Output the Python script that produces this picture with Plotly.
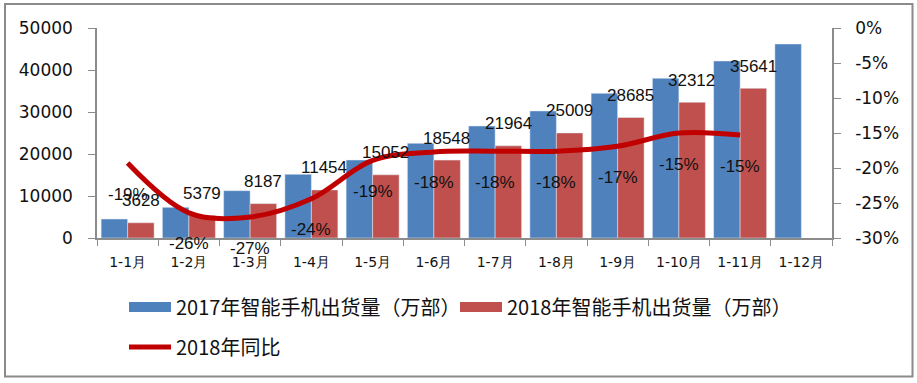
import plotly.graph_objects as go

categories = ['1-1月', '1-2月', '1-3月', '1-4月', '1-5月', '1-6月',
              '1-7月', '1-8月', '1-9月', '1-10月', '1-11月', '1-12月']
ship_2017 = [4520, 7310, 11270, 15160, 18570, 22540, 26670, 30240, 34440, 38020, 42140, 46190]
ship_2018 = [3628, 5379, 8187, 11454, 15052, 18548, 21964, 25009, 28685, 32312, 35641]
yoy_2018 = [-19.3, -26.4, -27.0, -24.4, -18.9, -17.7, -17.6, -17.6, -16.9, -15.0, -15.3]
left_ticks = [0, 10000, 20000, 30000, 40000, 50000]
right_tickvals = [0, -5, -10, -15, -20, -25, -30]
right_ticktext = ['0%', '-5%', '-10%', '-15%', '-20%', '-25%', '-30%']

name_2017 = '2017年智能手机出货量（万部）'
name_2018 = '2018年智能手机出货量（万部）'
name_yoy = '2018年同比'

BLUE = '#4F81BD'
RED = '#C0504D'
DARKRED = '#C00000'
AXIS = '#8C8C8C'
TXT = '#111111'

W, H = 917, 383
L, R, T, B = 97, 85, 28, 145
PW, PH = W - L - R, H - T - B

fig = go.Figure()
fig.add_trace(go.Bar(x=categories, y=ship_2017, name=name_2017, marker_color=BLUE,
                     showlegend=False, legendgroup='a'))
fig.add_trace(go.Bar(x=categories[:len(ship_2018)], y=ship_2018, name=name_2018,
                     marker_color=RED, showlegend=False, legendgroup='b'))
fig.add_trace(go.Scatter(x=categories[:len(yoy_2018)], y=yoy_2018, name=name_yoy, yaxis='y2',
                         mode='lines', line=dict(color=DARKRED, width=5, shape='spline'),
                         legend='legend2'))
# legend swatches (wide bands like the original)
fig.add_trace(go.Scatter(x=[None], y=[None], name=name_2017, mode='lines',
                         line=dict(color=BLUE, width=14), legendgroup='a'))
fig.add_trace(go.Scatter(x=[None], y=[None], name=name_2018, mode='lines',
                         line=dict(color=RED, width=14), legendgroup='b'))

annotations = []
for c, v in zip(categories, ship_2018):
    annotations.append(dict(x=c, y=v, xref='x', yref='y', text=str(v), showarrow=False,
                            xshift=13, yshift=22, yanchor='middle',
                            font=dict(family='Liberation Sans', size=17, color=TXT)))
for c, v in zip(categories, yoy_2018):
    annotations.append(dict(x=c, y=v, xref='x', yref='y2', text=f'{round(v):d}%', showarrow=False,
                            yshift=-31, yanchor='middle',
                            font=dict(family='Liberation Sans', size=17, color=TXT)))

shapes = [dict(type='rect', xref='paper', yref='paper',
               x0=(5 - L) / PW, x1=(912.5 - L) / PW,
               y0=(T + PH - 376.5) / PH, y1=(T + PH - 4) / PH,
               line=dict(color='#8A8A8A', width=2), fillcolor='rgba(0,0,0,0)', layer='below')]

fig.update_layout(
    width=W, height=H,
    margin=dict(l=L, r=R, t=T, b=B),
    paper_bgcolor='white', plot_bgcolor='white',
    barmode='group', bargap=0.135, bargroupgap=0,
    font=dict(family='DejaVu Sans', color=TXT),
    xaxis=dict(type='category', showgrid=False, showline=True, linecolor=AXIS, linewidth=1.5,
               ticks='outside', tickson='boundaries', ticklen=6, tickcolor=AXIS,
               tickfont=dict(family='DejaVu Sans', size=14, color=TXT), ticklabelstandoff=10),
    yaxis=dict(range=[0, 50000], tickvals=left_ticks, tickformat='d', showgrid=False,
               zeroline=False, showline=True, linecolor=AXIS, linewidth=1.5,
               ticks='outside', ticklen=7, tickcolor=AXIS,
               tickfont=dict(family='DejaVu Sans', size=17, color=TXT), ticklabelstandoff=12),
    yaxis2=dict(range=[-30, 0], overlaying='y', side='right', tickvals=right_tickvals,
                ticktext=right_ticktext, showgrid=False, zeroline=False, showline=True,
                linecolor=AXIS, linewidth=1.5, ticks='outside', ticklen=7, tickcolor=AXIS,
                tickfont=dict(family='DejaVu Sans', size=17, color=TXT), ticklabelstandoff=11),
    legend=dict(orientation='h', x=(124 - L) / PW, xanchor='left',
                y=(T + PH - 307) / PH, yanchor='middle', entrywidth=274, itemwidth=42,
                traceorder='normal',
                font=dict(family='Noto Sans CJK SC', size=20, color=TXT), bgcolor='rgba(0,0,0,0)'),
    legend2=dict(orientation='h', x=(124 - L) / PW, xanchor='left', itemwidth=42,
                 y=(T + PH - 347) / PH, yanchor='middle',
                 font=dict(family='Noto Sans CJK SC', size=20, color=TXT), bgcolor='rgba(0,0,0,0)'),
    annotations=annotations, shapes=shapes,
)

fig.write_html('out.html', config={'displayModeBar': False},
               post_script="document.body.style.margin='0px';document.body.style.overflow='hidden';")
